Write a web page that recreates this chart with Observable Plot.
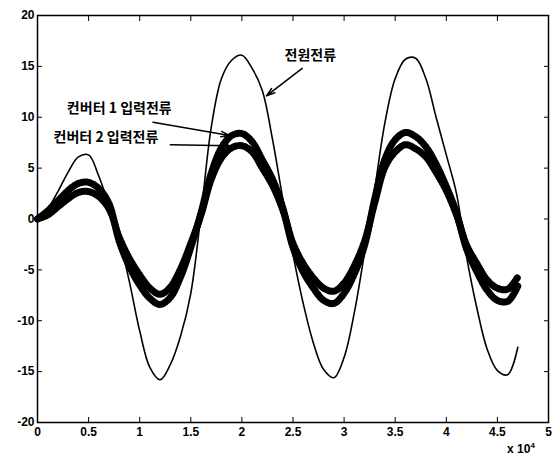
<!DOCTYPE html>
<html><head><meta charset="utf-8">
<script src="https://cdn.jsdelivr.net/npm/d3@7"></script>
<script src="https://cdn.jsdelivr.net/npm/@observablehq/plot@0.6"></script>
<style>body{margin:0;background:#fff} svg{display:block}</style>
</head><body><div id="chart"></div>
<script>
// time axis (x 10^4 samples)
const t = [0.0,0.1,0.2,0.3,0.4,0.5,0.6,0.7,0.8,0.9,1.0,1.1,1.2,1.3,1.4,1.5,1.6,1.7,1.8,1.9,2.0,2.1,2.2,2.3,2.4,2.5,2.6,2.7,2.8,2.9,3.0,3.1,3.2,3.3,3.4,3.5,3.6,3.7,3.8,3.9,4.0,4.1,4.2,4.3,4.4,4.5,4.6,4.7];
// 전원전류
const sourceCurrent = [0,1.0,2.7,4.6,6.1,6.3,4.2,1.3,-2.0,-6.2,-11.0,-14.6,-15.8,-14.3,-11.5,-7.3,0.5,9.0,13.8,15.6,16.1,14.8,12.6,7.8,2.0,-3.5,-8.3,-12.2,-14.8,-15.6,-13.6,-9.2,-3.3,3.0,9.5,13.8,15.7,15.8,13.8,10.0,6.3,2.5,-3.8,-8.8,-12.8,-14.9,-15.3,-12.6];
// 컨버터 1 입력전류
const conv1Current = [0,0.8,1.8,2.8,3.5,3.6,3.0,1.5,-2.2,-4.7,-6.5,-7.8,-8.4,-7.7,-5.7,-2.8,0.6,4.5,7.0,8.2,8.4,7.6,5.8,3.9,1.1,-2.8,-5.2,-6.8,-8.0,-8.3,-7.3,-5.4,-2.6,2.0,5.9,7.8,8.5,8.1,7.1,5.4,3.2,0.6,-3.0,-5.2,-7.0,-8.0,-8.1,-6.6];
// 컨버터 2 입력전류
const conv2Current = [0,0.4,1.2,2.0,2.6,2.7,2.2,1.0,-1.8,-3.9,-5.5,-6.8,-7.4,-6.7,-4.9,-2.4,0.4,3.9,6.0,7.0,7.2,6.6,5.0,3.3,0.9,-2.4,-4.4,-5.8,-6.8,-7.1,-6.3,-4.6,-2.2,1.6,5.1,6.6,7.3,6.9,6.1,4.6,2.8,0.4,-2.6,-4.4,-6.0,-6.8,-6.9,-5.7];

const xTicks = [0,0.5,1,1.5,2,2.5,3,3.5,4,4.5,5];
const yTicks = [-20,-15,-10,-5,0,5,10,15,20];

// annotations
const labelTexts = ["전원전류","컨버터 1 입력전류","컨버터 2 입력전류"];
const labelX = [2.67, 0.80, 0.67];
const labelY = [16.1, 10.9, 8.0];
const arrowX1 = [2.59, 1.13, 1.30];
const arrowY1 = [14.8, 9.5, 7.3];
const arrowX2 = [2.24, 1.88, 1.88];
const arrowY2 = [12.1, 8.2, 7.2];

const rows = arr => t.map((x, i) => ({x, y: arr[i]}));
const labels = labelTexts.map((text, i) => ({text, x: labelX[i], y: labelY[i]}));
const arrows = arrowX1.map((x1, i) => ({x1, y1: arrowY1[i], x2: arrowX2[i], y2: arrowY2[i]}));
const fmt = d => String(d);

const chart = Plot.plot({
  width: 555, height: 459,
  marginLeft: 37, marginRight: 7, marginTop: 15, marginBottom: 37,
  style: {fontFamily: "'Liberation Sans', Arial, sans-serif", fontSize: "12px", fontWeight: "bold", background: "#fff", color: "#000"},
  x: {domain: [0, 5]},
  y: {domain: [-20, 20]},
  marks: [
    Plot.line(rows(conv2Current), {x: "x", y: "y", stroke: "#000", strokeWidth: 7, strokeDasharray: "2,1.8", curve: "catmull-rom"}),
    Plot.line(rows(conv1Current), {x: "x", y: "y", stroke: "#000", strokeWidth: 7, strokeDasharray: "2,1.8", curve: "catmull-rom"}),
    Plot.line(rows(sourceCurrent), {x: "x", y: "y", stroke: "#000", strokeWidth: 1.6, curve: "catmull-rom"}),
    Plot.arrow(arrows, {x1: "x1", y1: "y1", x2: "x2", y2: "y2", stroke: "#000", strokeWidth: 1.5, headLength: 9, headAngle: 35}),
    Plot.text(labels, {x: "x", y: "y", text: "text", fontFamily: "'Noto Sans CJK KR', sans-serif", fontSize: 14, fontWeight: "bold", fill: "#000"}),
    Plot.frame({stroke: "#000", strokeWidth: 1.5}),
    Plot.axisX(xTicks, {anchor: "bottom", tickSize: -5, fill: "none", label: null}),
    Plot.axisX(xTicks, {anchor: "top", tickSize: -5, fill: "none", label: null}),
    Plot.axisY(yTicks, {anchor: "left", tickSize: -5, fill: "none", label: null}),
    Plot.axisY(yTicks, {anchor: "right", tickSize: -5, fill: "none", label: null}),
    Plot.axisX(xTicks, {anchor: "bottom", tickSize: 0, tickPadding: 5, label: null, tickFormat: fmt}),
    Plot.axisY(yTicks, {anchor: "left", tickSize: 0, tickPadding: 3, label: null, tickFormat: fmt})
  ]
});
document.getElementById("chart").appendChild(chart);
const svg = d3.select(chart);
const exp = svg.append("text").attr("x", 521).attr("y", 453)
  .attr("font-family", "'Liberation Sans', Arial, sans-serif").attr("font-size", 12).attr("font-weight", "bold").attr("fill", "#000");
exp.append("tspan").text("x 10");
exp.append("tspan").attr("dy", -5).attr("font-size", 8).text("4");
</script>
</body></html>
